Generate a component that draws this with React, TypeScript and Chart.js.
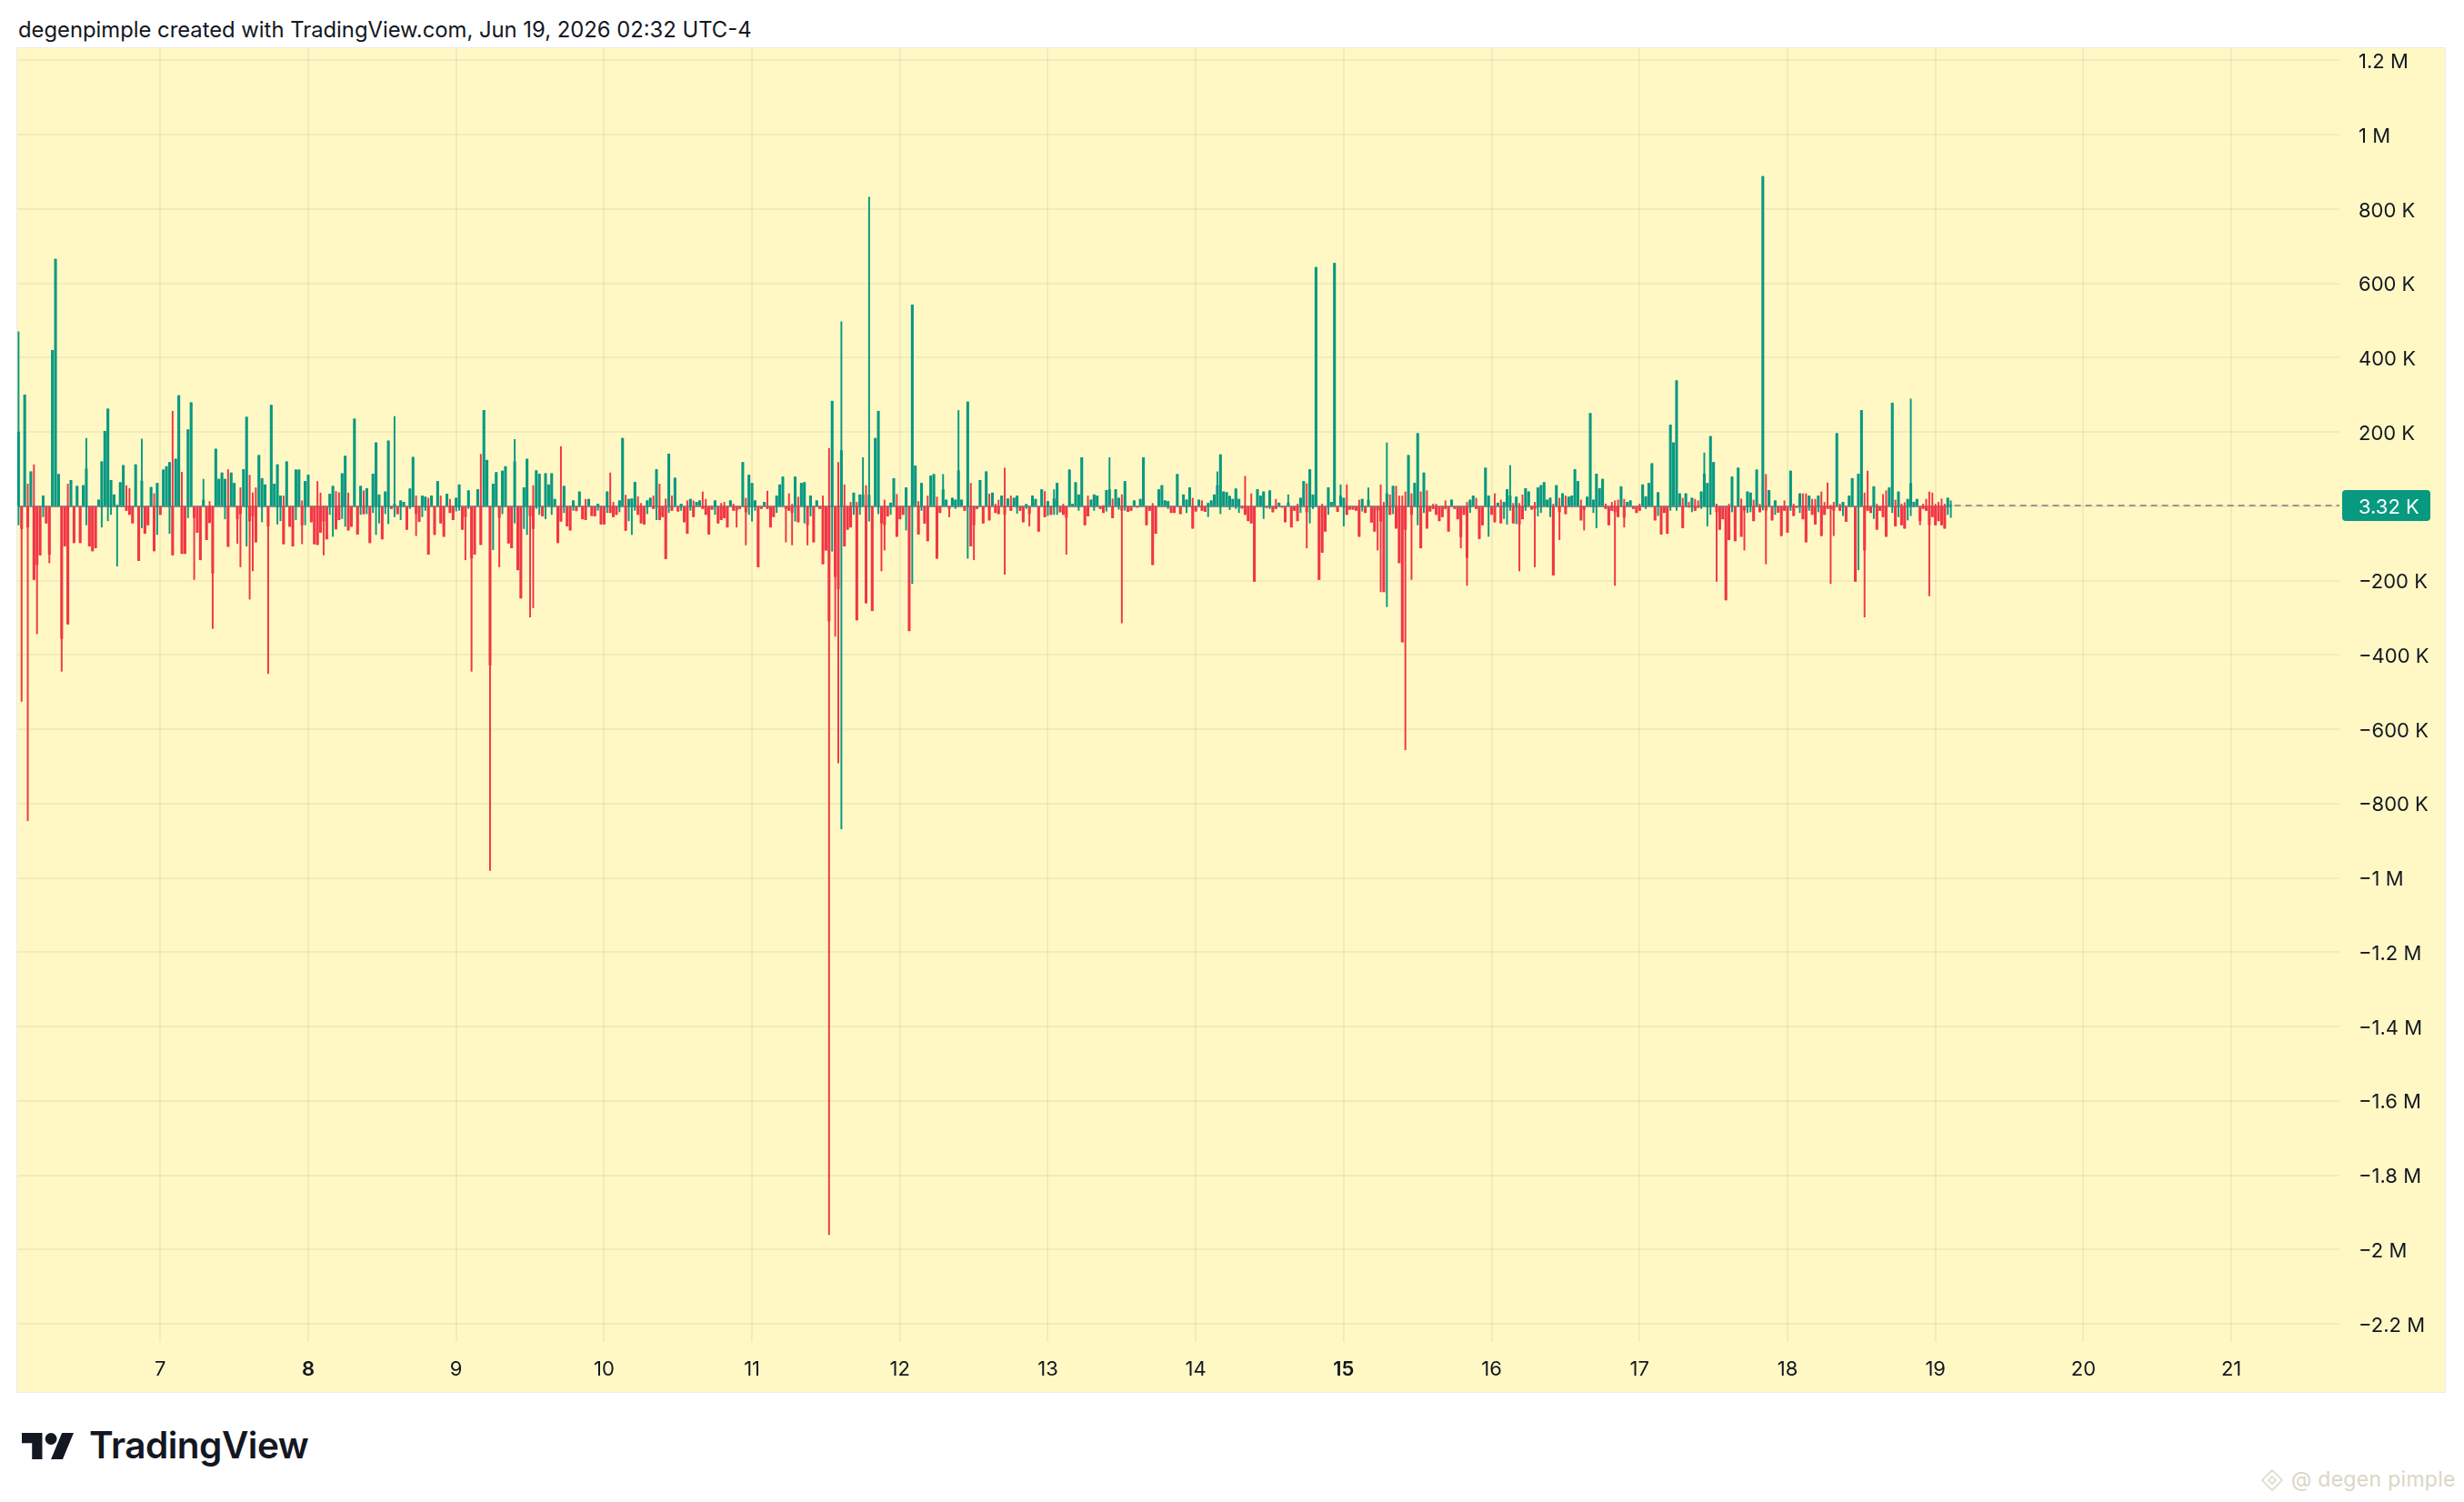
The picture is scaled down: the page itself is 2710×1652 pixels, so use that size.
import React, { useEffect, useRef } from 'react';
import { Chart, registerables } from 'chart.js';

Chart.register(...registerables);
Chart.defaults.font.family = 'Inter, sans-serif';

// close in thousands, or [close, wick high, wick low] when the wick sticks out
type Bar = number | [number, number, number];

const jun06: Bar[] = [
  [200, 470, -50], [-60, 0, -525], 300, [-56, 60, -846], 93, [-197, 112, 0], [-157, 0, -343], -131,
  [28, 0, -28], -45, [-129, 0, -152], 420, 665, 86, [-356, 0, -444], -107,
  [-317, 60, 0], 70, -98, 54, -98, 56, [101, 183, -50], -107,
  -120, -112, 17, [120, 0, -56], 202, [262, 0, -39], [70, 0, -22], 31,
  [3, 0, -161], 64, 110, [-11, 56, 0], [-22, 48, 0], -45, 112, -146,
  [68, 181, -58], -73, -50, 51, [-120, 34, 0], [62, 0, -76],
];
const jun07: Bar[] = [
  -22, 98, 107, [118, 0, -73], [-131, 256, 0], 127, 298, [-127, 92, 0],
  -127, [206, 0, -31], 279, [-30, 0, -197], -70, -144, [17, 73, 0], -90,
  [-44, 13, 0], [-180, 0, -329], 154, 73, 90, [73, 0, -34], [-108, 99, 0], 90,
  62, [-34, 0, -100], [-20, 50, -163], 99, [240, 0, -107], [-40, 84, -250], [-26, 36, -174], [-96, 50, 0],
  137, [75, 0, -42], 58, [-53, 0, -450], 272, 60, [112, 0, -48], [28, 0, -39],
  [-101, 28, 0], 120, -54, -107, [98, 0, -36], 98, [-50, 15, -101], [67, 0, -50],
];
const jun08: Bar[] = [
  84, -42, -101, [-103, 67, 0], [-70, 36, 0], [-40, 0, -131], -88, [33, 0, -22],
  [54, 0, -81], [-61, 40, 0], [-36, 37, 0], [88, 0, -33], [135, 0, -54], [-64, 36, 0], -54, 235,
  -75, [54, 0, -22], [-20, 42, 0], [48, 0, -20], -98, [87, 0, -17], [171, 0, -76], [31, 0, -45],
  -88, [39, 0, -20], [176, 0, -47], -6, [6, 242, -28], -20, [15, 0, -36], 11,
  -62, [47, 0, -6], 132, [-20, 28, -79], -41, [28, 0, -28], [25, 0, -11], [-129, 22, 0],
  28, -76, 67, [-45, 28, 0], -81, 33, [-17, 19, 0], -36,
];
const jun09: Bar[] = [
  [22, 0, -13], [58, 0, -11], -62, [-28, 0, -144], [42, 0, -6], [-140, 0, -444], -129, 45,
  [-103, 140, 0], 258, 124, [-427, 0, -980], [60, 0, -117], 91, [-30, 0, -163], [95, 0, -20],
  107, -99, -112, [120, 180, -45], -171, -247, [50, 0, -60], [127, 0, -76],
  [-25, 0, -298], [-60, 56, -273], [96, 0, -6], [87, 0, -22], -26, [88, 0, -34], 58, [88, 0, -22],
  19, -98, [-40, 161, 0], [54, 0, -17], -53, -64, [15, 0, -11], -12,
  39, -34, [-36, 19, 0], 19, -25, -26, [6, 0, -11], -48,
];
const jun10: Bar[] = [
  -48, [39, 0, -17], [-17, 90, 0], [-28, 11, 0], -22, [15, 0, -15], 183, [-65, 30, 0],
  [19, 0, -39], [20, 0, -76], [65, 0, -11], [-22, 26, 0], [-45, 8, 0], -48, [15, 0, -20], 22,
  [-6, 28, 0], [99, 0, -36], [-36, 60, 0], -28, [-141, 20, 0], [141, 0, -17], [-11, 28, 0], 76,
  -13, [6, 0, -11], -42, [-73, 15, 0], [19, 0, -11], [-28, 15, 0], 11, 15,
  [-6, 39, 0], [-22, 19, 0], -75, -8, [15, 0, -22], -45, [-36, 8, 0], [-31, 11, 0],
  -56, 15, [-11, 6, 0], [-10, 0, -56], -6, 118, [-15, 22, -104], [84, 0, -22],
];
const jun11: Bar[] = [
  [62, 0, -40], [15, 0, -11], -163, -6, 11, [-6, 41, 0], -56, -28,
  [28, 0, -17], 58, 79, [-6, 0, -96], [-11, 34, 0], [-17, 6, -104], [79, 0, -40], [-42, 25, 0],
  62, [64, 0, -45], [-50, 0, -104], [28, 0, -26], -96, 15, -6, [-155, 28, 0],
  -118, [-309, 156, -1960], [283, 0, -121], [-189, 0, -350], [-222, 118, -691], [150, 497, -868], [-107, 58, 0], -62,
  [-56, 11, 0], [36, 0, -22], [-306, 11, 0], [31, 0, -22], [31, 131, 0], [-260, 56, -208], [30, 832, -40], -281,
  183, [256, 0, -20], [-45, 0, -174], [-50, 17, -118], -26, [9, 0, -22], 75, [-81, 32, 0],
];
const jun12: Bar[] = [
  -34, -22, [50, 0, -64], -335, [542, 0, -208], 109, [-75, 13, 0], [62, 0, -11],
  -46, [-93, 28, 0], 82, 86, [-140, 25, 0], -17, [45, 86, 0], 17,
  [-6, 0, -28], 22, [17, 0, -6], [96, 258, 0], 17, -11, [281, 0, -140], [-107, 62, 0],
  [-50, 0, -144], -6, 70, -45, 93, [-37, 33, 0], 36, [-17, 6, 0],
  [-20, 17, 0], 28, [-22, 103, -183], 20, [-11, 28, 0], 22, [28, 0, -19], -11,
  -42, [5, 0, -6], [-20, 0, -53], 28, 19, -67, 45, [-28, 40, 0],
];
const jun13: Bar[] = [
  [13, 0, -25], -22, [20, 45, -22], [62, 0, -22], -15, [-22, 6, 0], [-30, 0, -129], 98,
  6, 64, [31, 0, -11], 131, -50, [-26, 28, 0], 17, [31, 0, -11],
  28, -6, [-17, 2, 0], [43, 0, -13], [45, 131, 0], [-31, 20, 0], 45, [22, 0, -8],
  [-11, 31, -314], [67, 0, -11], -14, -11, 15, -2, 19, 131,
  -50, -11, [-157, 8, 0], -73, 45, 56, 15, [13, 0, -6],
  -17, -17, 86, -20, 31, [17, 0, -17], 50, [-59, 22, 0],
];
const jun14: Bar[] = [
  -13, 17, [-11, 15, 0], -14, [8, 0, -28], 15, 31, [56, 93, 0],
  [139, 0, -20], 39, 37, [27, 0, -9], 19, [47, 0, -6], [19, 0, -17], -5,
  [-22, 81, 0], -39, [-45, 34, 0], -202, 45, 28, [39, 0, -33], -3,
  [42, 0, -6], -15, [-6, 19, 0], 9, -2, -42, [9, 31, 0], -56,
  -11, [-39, 6, 0], [22, 0, -17], 67, [-15, 61, -112], [99, 0, -45], [31, 0, -6], 643,
  -197, [-124, 6, 0], -67, [50, 0, -22], 11, 654, -14, [28, 58, 0],
];
const jun15: Bar[] = [
  [22, 0, -53], [-22, 58, 0], -8, -8, -11, [-81, 17, 0], [19, 0, -13], -17,
  [17, 50, 0], -43, -67, [-10, 0, -118], [-40, 58, -230], [-230, 11, 0], [34, 171, -270], [-22, 31, 0],
  [54, 0, -20], [-59, 54, 0], [-152, 28, 0], [-365, 28, 0], [-62, 39, -655], 137, [-22, 34, -197], 62,
  [196, 0, -50], [-112, 39, 0], [90, 0, -17], [-59, 42, 0], -13, [-6, 6, 0], [-22, 6, 0], -39,
  -28, [-6, 15, 0], -67, 17, -6, -34, [-82, 0, -112], -22,
  [-138, 11, -213], [17, 0, -17], 28, [-6, 22, 0], -87, -50, 103, [28, 0, -81],
];
const jun16: Bar[] = [
  -22, [-42, 34, 0], 9, [-45, 17, 0], [11, 0, -33], [45, 0, -48], [28, 110, -11], [-45, 8, 0],
  [25, 0, -47], [-48, 8, -174], [-34, 31, 0], [48, 0, -11], 39, -8, [-6, 11, -163], [50, 0, -26],
  [56, 0, -17], 64, [17, 0, -2], [22, 0, -28], [-185, 6, 0], 56, [-15, 22, -90], 34,
  [-20, 28, 0], 25, 28, 99, 67, [-37, 17, 0], [-8, 0, -64], 25,
  250, [17, 0, -17], [87, 0, -58], 48, 73, [-6, 6, 0], -50, [-11, 11, 0],
  [-15, 15, -213], [-28, 17, 0], 53, [-30, 19, -56], 11, 15, -6, -17,
];
const jun17: Bar[] = [
  [-11, 6, 0], 58, [26, 0, -6], 62, 115, -37, [37, 0, -25], -75,
  -17, -73, [219, 0, -11], 171, [338, 0, -11], 34, [-58, 22, 0], 34,
  [-2, 11, 0], [22, 0, -15], [-11, 19, 0], [-3, 15, 0], [39, 0, -6], [87, 144, 0], [62, 0, -53], [188, 0, -22],
  118, [-15, 6, -202], -62, -34, -252, [-90, 6, 0], [79, 0, -15], -93,
  103, [-81, 20, 0], [-11, 0, -118], [39, 0, -17], [36, 0, -15], [-39, 17, 0], 98, [-15, 6, 0],
  [888, 0, -10], [-11, 86, -155], 43, -37, [15, 0, -22], -16, -79, [-11, 15, 0],
];
const jun18: Bar[] = [
  -70, [95, 0, -11], [-25, 6, 0], -3, [34, 0, -17], [-34, 34, 0], [-96, 34, 0], [28, 0, -11],
  [-22, 19, 0], [-48, 19, 0], [28, 0, -15], [-79, 39, 0], [-22, 11, 0], [-6, 63, 0], [-6, 3, -208], [-11, 11, -79],
  196, [-11, 6, 0], [11, 0, -25], -41, 28, 75, [-202, 0, -73], [87, 0, -171],
  258, [-118, 36, -298], [-11, 95, 0], -17, [53, 0, -33], [-62, 6, 0], -11, [-28, 32, 0],
  [-81, 42, 0], 50, [278, 0, -17], [-53, 17, 0], [39, 0, -28], [-50, 6, 0], [-59, 10, 0], [19, 0, -37],
  [62, 289, -25], 11, 19, [-39, 0, -50], [-6, 6, 0], [-11, 19, 0], [-50, 39, -241], [-28, 36, 0],
];
const jun19: Bar[] = [[-50, 6, 0], [-39, 11, 0], [-50, 20, 0], [-59, 6, 0], [22, 0, -22], [3.32, 15, -30]];

// [day of June, first hour, bars every 30 min]
const sessions: [number, number, Bar[]][] = [
  [6, 1, jun06], [7, 0, jun07], [8, 0, jun08], [9, 0, jun09], [10, 0, jun10],
  [11, 0, jun11], [12, 0, jun12], [13, 0, jun13], [14, 0, jun14], [15, 0, jun15],
  [16, 0, jun16], [17, 0, jun17], [18, 0, jun18], [19, 0, jun19],
];

const xTickDays = [7, 8, 9, 10, 11, 12, 13, 14, 15, 16, 17, 18, 19, 20, 21];
const boldDays = [8, 15];
const yTickValues = [
  1200000, 1000000, 800000, 600000, 400000, 200000, 0, -200000, -400000,
  -600000, -800000, -1000000, -1200000, -1400000, -1600000, -1800000, -2000000, -2200000,
];
const yTickLabels = [
  '1.2 M', '1 M', '800 K', '600 K', '400 K', '200 K', '0', '\u2212200 K', '\u2212400 K',
  '\u2212600 K', '\u2212800 K', '\u22121 M', '\u22121.2 M', '\u22121.4 M', '\u22121.6 M', '\u22121.8 M', '\u22122 M', '\u22122.2 M',
];

const UP = '#089981';
const DOWN = '#F23645';

const xs: number[] = [];
const closes: number[] = [];
const highs: number[] = [];
const lows: number[] = [];
sessions.forEach(([day, startHour, bars]) => {
  bars.forEach((b, i) => {
    const [c, h, l] = Array.isArray(b) ? b : [b, 0, 0];
    xs.push(day + (startHour * 2 + i) / 48);
    closes.push(c * 1000);
    highs.push(Math.max(0, c, h) * 1000);
    lows.push(Math.min(0, c, l) * 1000);
  });
});

const colorAt = (ctx: any) => (closes[ctx.dataIndex] >= 0 ? UP : DOWN);

const overlayPlugin = {
  id: 'overlay',
  beforeDatasetsDraw(chart: any) {
    const { ctx, scales } = chart;
    const y0 = scales.y.getPixelForValue(0);
    ctx.save();
    ctx.strokeStyle = 'rgba(120, 123, 134, 0.85)';
    ctx.lineWidth = 2;
    ctx.beginPath();
    ctx.moveTo(scales.x.getPixelForValue(xs[0]), y0);
    ctx.lineTo(scales.x.getPixelForValue(xs[xs.length - 1]), y0);
    ctx.stroke();
    ctx.restore();
  },
  afterDraw(chart: any) {
    const { ctx, chartArea, scales } = chart;
    const last = closes[closes.length - 1];
    const yl = Math.round(scales.y.getPixelForValue(last));
    ctx.save();
    ctx.strokeStyle = '#787b86';
    ctx.lineWidth = 1.5;
    ctx.setLineDash([7, 5]);
    ctx.beginPath();
    ctx.moveTo(scales.x.getPixelForValue(xs[xs.length - 1]) + 4, yl);
    ctx.lineTo(chartArea.right, yl);
    ctx.stroke();
    ctx.setLineDash([]);
    ctx.fillStyle = last >= 0 ? UP : DOWN;
    ctx.beginPath();
    ctx.roundRect(chartArea.right + 3, yl - 17, 97, 34, 4);
    ctx.fill();
    ctx.fillStyle = '#ffffff';
    ctx.font = '22px Inter, sans-serif';
    ctx.textBaseline = 'middle';
    ctx.textAlign = 'left';
    ctx.fillText((last / 1000).toFixed(2) + ' K', chartArea.right + 21, yl + 2);
    ctx.restore();
  },
};

const DeltaChart: React.FC = () => {
  const canvasRef = useRef<HTMLCanvasElement | null>(null);
  const chartRef = useRef<Chart | null>(null);

  useEffect(() => {
    if (!canvasRef.current) return;
    if (chartRef.current) chartRef.current.destroy();

    chartRef.current = new Chart(canvasRef.current, {
      type: 'bar',
      data: {
        datasets: [
          {
            label: 'wick',
            data: xs.map((x, i) => ({ x, y: [lows[i], highs[i]] })) as any,
            backgroundColor: colorAt,
            barThickness: 1.3,
            grouped: false,
            order: 2,
          },
          {
            label: 'body',
            data: xs.map((x, i) => ({ x, y: [0, closes[i]] })) as any,
            backgroundColor: colorAt,
            barThickness: 2.4,
            grouped: false,
            order: 1,
          },
        ],
      },
      options: {
        animation: false,
        responsive: false,
        events: [],
        layout: { padding: 0 },
        plugins: { legend: { display: false }, title: { display: false }, tooltip: { enabled: false } },
        scales: {
          x: {
            type: 'linear',
            min: 6.0332,
            max: 21.731,
            offset: false,
            afterBuildTicks: (scale: any) => {
              scale.ticks = xTickDays.map((v) => ({ value: v }));
            },
            afterFit: (scale: any) => {
              scale.height = 55;
              scale.paddingLeft = 0;
              scale.paddingRight = 0;
            },
            ticks: {
              autoSkip: false,
              maxRotation: 0,
              padding: 17,
              color: '#131722',
              font: (ctx: any) => ({
                size: 22,
                family: 'Inter, sans-serif',
                weight: boldDays.includes(ctx.tick && ctx.tick.value) ? '600' : '400',
              }),
              callback: (v: any) => String(v),
            },
            grid: { color: 'rgba(42, 46, 57, 0.06)', lineWidth: 2, drawTicks: false, offset: false },
            border: { display: false },
          },
          y: {
            type: 'linear',
            position: 'right',
            min: -2249000,
            max: 1233000,
            afterBuildTicks: (scale: any) => {
              scale.ticks = yTickValues.map((v) => ({ value: v }));
            },
            afterFit: (scale: any) => {
              scale.width = 116;
              scale.paddingTop = 0;
              scale.paddingBottom = 0;
            },
            ticks: {
              padding: 21,
              labelOffset: 2,
              color: '#131722',
              font: { size: 22, family: 'Inter, sans-serif' },
              callback: (v: any) => yTickLabels[yTickValues.indexOf(Number(v))] ?? '',
            },
            grid: { color: 'rgba(42, 46, 57, 0.06)', lineWidth: 2, drawTicks: false },
            border: { display: false },
          },
        },
      } as any,
      plugins: [overlayPlugin],
    });

    return () => {
      if (chartRef.current) {
        chartRef.current.destroy();
        chartRef.current = null;
      }
    };
  }, []);

  return <canvas ref={canvasRef} width={2670} height={1478} style={{ display: 'block' }} />;
};

export default function App() {
  return (
    <div
      style={{
        position: 'absolute',
        left: 0,
        top: 0,
        width: 2710,
        height: 1652,
        background: '#ffffff',
        overflow: 'hidden',
        fontFamily: 'Inter, sans-serif',
        color: '#131722',
      }}
    >
      <div style={{ position: 'absolute', left: 20, top: 19, fontSize: 23.8, lineHeight: '28px', whiteSpace: 'nowrap' }}>
        degenpimple created with TradingView.com, Jun 19, 2026 02:32 UTC-4
      </div>
      <div
        style={{
          position: 'absolute',
          left: 19,
          top: 53,
          width: 2670,
          height: 1478,
          background: '#fff8c5',
          boxShadow: '0 0 0 1px #ececec',
        }}
      >
        <DeltaChart />
      </div>
      <svg style={{ position: 'absolute', left: 24, top: 1576 }} width={57} height={29} viewBox="0 4 35.5 18">
        <path d="M14 22H7V11H0V4h14v18zM28 22h-8l7.5-18h8L28 22z" fill="#131722" />
        <circle cx="20" cy="8" r="4" fill="#131722" />
      </svg>
      <div
        style={{
          position: 'absolute',
          left: 98,
          top: 1566,
          fontSize: 40.5,
          lineHeight: '48px',
          fontWeight: 600,
          letterSpacing: -0.5,
          whiteSpace: 'nowrap',
        }}
      >
        TradingView
      </div>
      <svg style={{ position: 'absolute', left: 2486, top: 1615 }} width={26} height={26} viewBox="0 0 26 26">
        <g fill="none" stroke="#dddbc6" strokeWidth={1.6}>
          <path d="M13 2 L24 13 L13 24 L2 13 Z" />
          <path d="M13 9 L17 13 L13 17 L9 13 Z" />
        </g>
      </svg>
      <div
        style={{
          position: 'absolute',
          left: 2520,
          top: 1612,
          fontSize: 23,
          lineHeight: '30px',
          color: '#d9d7c2',
          whiteSpace: 'nowrap',
          letterSpacing: 0.3,
        }}
      >
        @ degen pimple
      </div>
    </div>
  );
}
